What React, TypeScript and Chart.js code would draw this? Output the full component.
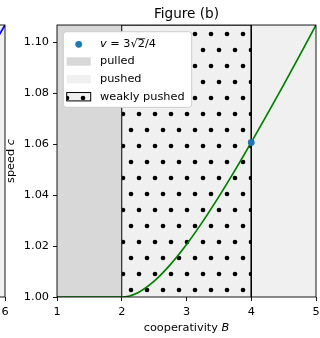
import { useEffect, useRef } from 'react';
import { Chart, registerables } from 'chart.js';

Chart.register(...registerables);

const FONT = '"DejaVu Sans", "Liberation Sans", sans-serif';
const SMALL = 11.3;
const TITLE_SIZE = 13.6;

// front speed c against cooperativity B
const B_VALUES = [1.0, 1.5, 2.0, 2.25, 2.5, 2.75, 3.0, 3.25, 3.5, 3.75, 4.0, 4.25, 4.5, 4.75, 5.0];
const SPEED = [1.0, 1.0, 1.0, 1.0017, 1.0062, 1.0127, 1.0206, 1.0296, 1.0394, 1.0498, 1.0607, 1.0719, 1.0833, 1.095, 1.1068];

// marked point v = 3√2/4
const MARK_B = [4.0];
const MARK_C = [1.0607];

// regimes along B
const PULLED_RANGE = [1, 2];
const WEAK_RANGE = [2, 4];
const PUSHED_RANGE = [4, 5];

const X_TICKS = [1, 2, 3, 4, 5];
const Y_TICKS = [1.0, 1.02, 1.04, 1.06, 1.08, 1.1];
const X_LIMITS = [1, 5];
const Y_LIMITS = [1.0, 1.1068];

// right-hand end of the neighbouring panel
const SIDE_X = [5.7, 6.0];
const SIDE_Y = [0.94, 1.0];
const SIDE_PUSHED_RANGE = [5, 6];
const SIDE_X_TICKS = [0, 1, 2, 3, 4, 5, 6];
const SIDE_X_LIMITS = [0, 6];
const SIDE_Y_LIMITS = [0, 1];

const PULLED_COLOR = '#d8d8d8';
const PUSHED_COLOR = '#f0f0f0';
const CURVE_COLOR = '#008000';
const MARK_COLOR = '#1f77b4';
const SIDE_LINE_COLOR = '#0000ff';

const W = 320;
const H = 338;

const font = (size: number, italic = false) => `${italic ? 'italic ' : ''}${size}px ${FONT}`;

// dotted texture of the weakly pushed band, anchored to the plot area
function dotPattern(chart: any): CanvasPattern | string {
  const a = chart.chartArea;
  if (!a) return PUSHED_COLOR;
  const tile = document.createElement('canvas');
  tile.width = 16;
  tile.height = 32;
  const t = tile.getContext('2d')!;
  t.fillStyle = PUSHED_COLOR;
  t.fillRect(0, 0, 16, 32);
  t.fillStyle = '#000';
  for (const [x, y] of [[4, 8], [12, 24]]) {
    t.beginPath();
    t.arc(x, y, 2.35, 0, Math.PI * 2);
    t.fill();
  }
  const p = chart.ctx.createPattern(tile, 'repeat')!;
  p.setTransform(new DOMMatrix([1, 0, 0, 1, Math.round(a.left + 6), Math.round(a.bottom + 17)]));
  return p;
}

type Part = [string, boolean];

function partsWidth(ctx: CanvasRenderingContext2D, parts: Part[], size: number) {
  return parts.map(([s, it]) => {
    ctx.font = font(size, it);
    return ctx.measureText(s).width;
  });
}

function drawParts(ctx: CanvasRenderingContext2D, parts: Part[], x0: number, y: number, size: number, centered: boolean) {
  const ws = partsWidth(ctx, parts, size);
  const total = ws.reduce((s, w) => s + w, 0);
  let x = centered ? x0 - total / 2 : x0;
  ctx.textAlign = 'left';
  ctx.textBaseline = 'middle';
  const pos: number[] = [];
  parts.forEach(([s, it], i) => {
    ctx.font = font(size, it);
    pos.push(x);
    ctx.fillText(s, x, y);
    x += ws[i];
  });
  pos.push(x);
  return pos;
}

function drawFrame(chart: any) {
  const { ctx, chartArea: a } = chart;
  ctx.save();
  ctx.strokeStyle = '#000';
  ctx.lineWidth = 0.9;
  ctx.strokeRect(a.left, a.top, a.right - a.left, a.bottom - a.top);
  ctx.restore();
}

const framePlugin = {
  id: 'frame',
  afterDatasetsDraw(chart: any) {
    drawFrame(chart);
  },
};

const decorPlugin = {
  id: 'decor',
  afterDraw(chart: any) {
    const { ctx, chartArea: a } = chart;
    ctx.save();
    ctx.fillStyle = '#000';
    // axis titles
    drawParts(ctx, [['cooperativity ', false], ['B', true]], (a.left + a.right) / 2, a.bottom + 31, SMALL, true);
    ctx.save();
    ctx.translate(11, (a.top + a.bottom) / 2);
    ctx.rotate(-Math.PI / 2);
    drawParts(ctx, [['speed ', false], ['c', true]], 0, 0, SMALL, true);
    ctx.restore();

    // legend
    const lx = a.left + 6.3;
    const ly = a.top + 6.7;
    const lw = 128.4;
    const lh = 75.6;
    ctx.beginPath();
    ctx.roundRect(lx, ly, lw, lh, 3);
    ctx.fillStyle = '#ffffff';
    ctx.fill();
    ctx.strokeStyle = '#cccccc';
    ctx.lineWidth = 1;
    ctx.stroke();

    const rows = [12.6, 29.8, 47.5, 65].map((d) => ly + d);
    const hx = lx + 3.4;
    const hw = 24;
    const hh = 8.4;
    const tx = lx + 36.7;

    ctx.fillStyle = MARK_COLOR;
    ctx.beginPath();
    ctx.arc(hx + hw / 2, rows[0], 3.4, 0, Math.PI * 2);
    ctx.fill();

    ctx.fillStyle = PULLED_COLOR;
    ctx.fillRect(hx, rows[1] - hh / 2, hw, hh);
    ctx.fillStyle = PUSHED_COLOR;
    ctx.fillRect(hx, rows[2] - hh / 2, hw, hh);
    ctx.fillStyle = dotPattern(chart);
    ctx.fillRect(hx, rows[3] - hh / 2, hw, hh);
    ctx.strokeStyle = '#000';
    ctx.lineWidth = 1;
    ctx.strokeRect(hx, rows[3] - hh / 2, hw, hh);

    ctx.fillStyle = '#000';
    const pos = drawParts(
      ctx,
      [['v', true], [' = 3', false], ['√', false], ['2', false], ['/4', false]],
      tx,
      rows[0],
      SMALL,
      false,
    );
    // vinculum over the radicand
    ctx.strokeStyle = '#000';
    ctx.lineWidth = 0.8;
    ctx.beginPath();
    ctx.moveTo(pos[3] - 0.5, rows[0] - 5.6);
    ctx.lineTo(pos[4] + 0.3, rows[0] - 5.6);
    ctx.stroke();

    ctx.font = font(SMALL);
    ctx.textAlign = 'left';
    ctx.textBaseline = 'middle';
    ctx.fillText('pulled', tx, rows[1]);
    ctx.fillText('pushed', tx, rows[2]);
    ctx.fillText('weakly pushed', tx, rows[3]);
    ctx.restore();
  },
};

const band = (range: number[], top: number) => range.map((x) => ({ x, y: top }));

function axisCommon(ticks: number[], decimals: number, padding: number) {
  return {
    type: 'linear' as const,
    afterBuildTicks: (s: any) => {
      s.ticks = ticks.map((value) => ({ value }));
    },
    grid: {
      drawOnChartArea: false,
      drawTicks: true,
      tickLength: 4,
      tickColor: '#000',
      tickWidth: 0.9,
    },
    border: { display: false },
    ticks: {
      color: '#000',
      font: { family: FONT, size: SMALL },
      padding,
      maxRotation: 0,
      autoSkip: false,
      callback: (v: any) => Number(v).toFixed(decimals),
    },
  };
}

// bottom axis box: fixed height, only room for half of the end labels
const fitBottom = (s: any) => {
  s.height = 41;
  s.paddingLeft = 4;
  s.paddingRight = 4;
};

export default function App() {
  const mainRef = useRef<HTMLCanvasElement>(null);
  const sideRef = useRef<HTMLCanvasElement>(null);

  useEffect(() => {
    const yTop = Y_LIMITS[1];
    const main = new Chart(mainRef.current!, {
      type: 'line',
      data: {
        datasets: [
          {
            data: band(PULLED_RANGE, yTop),
            fill: 'start',
            backgroundColor: PULLED_COLOR,
            borderWidth: 0,
            pointRadius: 0,
            order: 10,
          },
          {
            data: band(PUSHED_RANGE, yTop),
            fill: 'start',
            backgroundColor: PUSHED_COLOR,
            borderWidth: 0,
            pointRadius: 0,
            order: 9,
          },
          {
            data: [
              { x: WEAK_RANGE[0], y: Y_LIMITS[0] },
              { x: WEAK_RANGE[0], y: yTop },
              { x: WEAK_RANGE[1], y: yTop },
              { x: WEAK_RANGE[1], y: Y_LIMITS[0] },
            ],
            fill: 'start',
            backgroundColor: (c: any) => dotPattern(c.chart),
            borderColor: '#000',
            borderWidth: 1,
            pointRadius: 0,
            order: 8,
          },
          {
            data: B_VALUES.map((x, i) => ({ x, y: SPEED[i] })),
            borderColor: CURVE_COLOR,
            borderWidth: 1.7,
            pointRadius: 0,
            fill: false,
            cubicInterpolationMode: 'monotone',
            order: 2,
          },
          {
            data: MARK_B.map((x, i) => ({ x, y: MARK_C[i] })),
            showLine: false,
            pointRadius: 3.4,
            pointBackgroundColor: MARK_COLOR,
            pointBorderWidth: 0,
            order: 1,
          },
        ],
      },
      options: {
        responsive: false,
        animation: false,
        devicePixelRatio: 1,
        layout: { padding: { top: 0, right: 4, bottom: 0, left: 0 } },
        scales: {
          x: {
            ...axisCommon(X_TICKS, 0, 4),
            min: X_LIMITS[0],
            max: X_LIMITS[1],
            afterFit: fitBottom,
          },
          y: {
            ...axisCommon(Y_TICKS, 2, 4),
            min: Y_LIMITS[0],
            max: Y_LIMITS[1],
            afterFit: (s: any) => {
              s.width = 57;
            },
          },
        },
        plugins: {
          legend: { display: false },
          tooltip: { enabled: false },
          title: {
            display: true,
            text: 'Figure (b)',
            fullSize: false,
            color: '#000',
            font: { family: FONT, size: TITLE_SIZE, weight: 'normal' },
            padding: { top: 6.8, bottom: 1.9 },
          },
        },
      } as any,
      plugins: [framePlugin, decorPlugin],
    });

    const side = new Chart(sideRef.current!, {
      type: 'line',
      data: {
        datasets: [
          {
            data: band(SIDE_PUSHED_RANGE, SIDE_Y_LIMITS[1]),
            fill: 'start',
            backgroundColor: PUSHED_COLOR,
            borderWidth: 0,
            pointRadius: 0,
            order: 5,
          },
          {
            data: SIDE_X.map((x, i) => ({ x, y: SIDE_Y[i] })),
            borderColor: SIDE_LINE_COLOR,
            borderWidth: 1.7,
            pointRadius: 0,
            fill: false,
            order: 1,
          },
        ],
      },
      options: {
        responsive: false,
        animation: false,
        devicePixelRatio: 1,
        layout: { padding: { top: 25, right: 4, bottom: 0, left: 4 } },
        scales: {
          x: {
            ...axisCommon(SIDE_X_TICKS, 0, 4),
            min: SIDE_X_LIMITS[0],
            max: SIDE_X_LIMITS[1],
            afterFit: fitBottom,
          },
          y: { type: 'linear', display: false, min: SIDE_Y_LIMITS[0], max: SIDE_Y_LIMITS[1] },
        },
        plugins: {
          legend: { display: false },
          tooltip: { enabled: false },
        },
      } as any,
      plugins: [framePlugin],
    });

    return () => {
      main.destroy();
      side.destroy();
    };
  }, []);

  return (
    <div
      style={{
        position: 'fixed',
        left: 0,
        top: 0,
        width: W,
        height: H,
        overflow: 'hidden',
        background: '#ffffff',
      }}
    >
      <canvas
        ref={sideRef}
        width={200}
        height={H}
        style={{ position: 'absolute', left: -191, top: 0, width: 200, height: H }}
      />
      <canvas
        ref={mainRef}
        width={W}
        height={H}
        style={{ position: 'absolute', left: 0, top: 0, width: W, height: H }}
      />
    </div>
  );
}
